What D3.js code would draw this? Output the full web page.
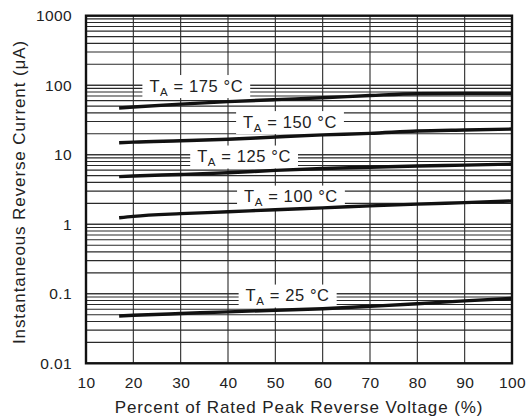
<!DOCTYPE html>
<html>
<head>
<meta charset="utf-8">
<script src="https://cdn.jsdelivr.net/npm/d3@7"></script>
<style>
  body { margin: 0; background: #fff; }
  svg { display: block; font-family: "Liberation Sans", Arial, sans-serif; }
</style>
</head>
<body>
<div id="chart"></div>
<script>
// percent of rated peak reverse voltage
const pct = [17, 20, 30, 40, 50, 60, 70, 80, 90, 100];

// instantaneous reverse current (uA) per junction temperature
const t175 = [47, 48.5, 53.5, 58, 62, 66, 71, 75.5, 76, 76];
const t150 = [14.9, 15.2, 15.9, 16.7, 18, 19.3, 20.3, 21.9, 22.7, 23.4];
const t125 = [4.85, 4.95, 5.2, 5.5, 5.95, 6.35, 6.6, 6.9, 7.1, 7.35];
const t100 = [1.24, 1.3, 1.42, 1.51, 1.62, 1.72, 1.84, 1.95, 2.05, 2.16];
const t25 = [0.048, 0.049, 0.052, 0.055, 0.058, 0.061, 0.066, 0.072, 0.079, 0.086];

const temps = ['175', '150', '125', '100', '25'];
const series = [t175, t150, t125, t100, t25];

// where each temperature label sits (data units)
const labelX = [33.3, 53.1, 43.4, 53.3, 52.6];
const labelY = [95.7, 29, 9.27, 2.46, 0.0927];

const xTicks = [10, 20, 30, 40, 50, 60, 70, 80, 90, 100];
const yTicks = [0.01, 0.1, 1, 10, 100, 1000];

const width = 527, height = 420;
const margin = { top: 15.7, right: 15, bottom: 56.7, left: 86 };

const svg = d3.select('#chart')
  .append('svg')
  .attr('width', width)
  .attr('height', height);

const x = d3.scaleLinear().domain([10, 100]).range([margin.left, width - margin.right]);
const y = d3.scaleLog().domain([0.01, 1000]).range([height - margin.bottom, margin.top]);

// grid
const minor = [];
for (let e = -2; e < 3; e++) {
  for (let m = 1; m <= 10; m++) minor.push(m * Math.pow(10, e));
}

const grid = svg.append('g').attr('stroke', '#2a2a2a').attr('stroke-width', 1.1);
grid.selectAll('line.h')
  .data(minor)
  .enter().append('line')
  .attr('x1', x(10)).attr('x2', x(100))
  .attr('y1', d => y(d)).attr('y2', d => y(d));
grid.selectAll('line.v')
  .data(xTicks.slice(1, -1))
  .enter().append('line')
  .attr('y1', y(0.01)).attr('y2', y(1000))
  .attr('x1', d => x(d)).attr('x2', d => x(d));

// labels (white boxes knock out the grid)
const labels = svg.append('g');
temps.forEach((t, i) => {
  const g = labels.append('g');
  const box = g.append('rect').attr('fill', '#fff');
  const txt = g.append('text')
    .attr('x', x(labelX[i]))
    .attr('y', y(labelY[i]))
    .attr('dy', '0.32em')
    .attr('text-anchor', 'middle')
    .attr('font-size', 16.5)
    .attr('letter-spacing', 0.6)
    .attr('fill', '#222');
  txt.append('tspan').text('T');
  txt.append('tspan').attr('font-size', 11.5).attr('dy', 4).text('A');
  txt.append('tspan').attr('dy', -4).text(' = ' + t + ' \u00b0C');
  const bb = txt.node().getBBox();
  box.attr('x', bb.x - 7).attr('width', bb.width + 14)
    .attr('y', y(labelY[i]) - 11.5).attr('height', 23);
});

// curves
const line = d3.line()
  .x((d, i) => x(pct[i]))
  .y(d => y(d))
  .curve(d3.curveMonotoneX);

svg.append('g').selectAll('path')
  .data(series)
  .enter().append('path')
  .attr('d', line)
  .attr('fill', 'none')
  .attr('stroke', '#111')
  .attr('stroke-width', 3.4);

// frame
svg.append('rect')
  .attr('x', x(10)).attr('y', y(1000))
  .attr('width', x(100) - x(10)).attr('height', y(0.01) - y(1000))
  .attr('fill', 'none').attr('stroke', '#111').attr('stroke-width', 2.4);

// axes
const xAxis = svg.append('g')
  .attr('transform', `translate(0,${y(0.01)})`)
  .call(d3.axisBottom(x).tickValues(xTicks).tickSize(0).tickPadding(14));
const yAxis = svg.append('g')
  .attr('transform', `translate(${x(10)},0)`)
  .call(d3.axisLeft(y).tickValues(yTicks).tickFormat(d => String(d)).tickSize(0).tickPadding(14));

[xAxis, yAxis].forEach(a => {
  a.select('.domain').remove();
  a.selectAll('text').attr('font-size', 15.5).attr('letter-spacing', 0.4).attr('fill', '#222')
    .attr('font-family', '"Liberation Sans", Arial, sans-serif');
});

svg.append('text')
  .attr('x', 299).attr('y', 413)
  .attr('text-anchor', 'middle')
  .attr('font-size', 17)
  .attr('letter-spacing', 0.9)
  .attr('fill', '#222')
  .text('Percent of Rated Peak Reverse Voltage (%)');

svg.append('text')
  .attr('transform', 'translate(25,192) rotate(-90)')
  .attr('text-anchor', 'middle')
  .attr('font-size', 17)
  .attr('letter-spacing', 0.9)
  .attr('fill', '#222')
  .text('Instantaneous Reverse Current (\u03bcA)');
</script>
</body>
</html>
